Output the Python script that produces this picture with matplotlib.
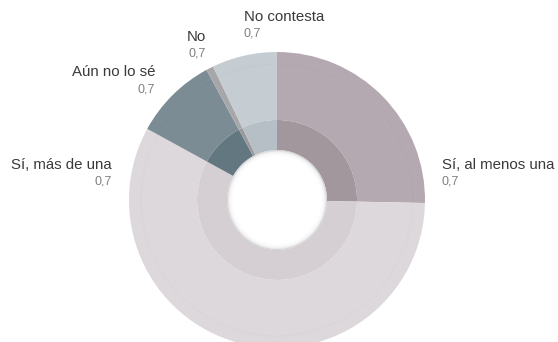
import matplotlib
matplotlib.use("Agg")
import matplotlib.pyplot as plt
from matplotlib.patches import Circle

# data (share of the ring, clockwise from 12 o'clock)
labels = ["Sí, al menos una", "Sí, más de una", "Aún no lo sé", "No", "No contesta"]
shares = [25.3, 57.6, 9.1, 0.8, 7.1]
value_text = ["0,7", "0,7", "0,7", "0,7", "0,7"]

outer_colors = ["#b4a9b0", "#ddd8dc", "#7b8c95", "#a7a7aa", "#c5ccd2"]
inner_colors = ["#a3979e", "#d5cfd3", "#637780", "#9a9a9e", "#b6bfc6"]

# label anchors (pixels, top-left origin) and alignment
label_pos = [(442, 165, "left"), (112, 165, "right"), (155, 72, "right"),
             (206, 37, "right"), (244, 17, "left")]

W, H = 558, 342
cx, cy = 277, H - 200
r_out, r_mid, r_hole = 148, 80, 50

plt.rcParams["font.family"] = ["Liberation Sans", "DejaVu Sans"]
fig = plt.figure(figsize=(W / 100, H / 100), dpi=100)
ax = fig.add_axes([0, 0, 1, 1])

ax.pie(shares, colors=outer_colors, radius=r_out, center=(cx, cy),
       startangle=90, counterclock=False, normalize=True,
       wedgeprops=dict(width=r_out - r_mid, linewidth=0))
ax.pie(shares, colors=inner_colors, radius=r_mid, center=(cx, cy),
       startangle=90, counterclock=False, normalize=True,
       wedgeprops=dict(width=r_mid - r_hole, linewidth=0))
ax.set_xlim(0, W)
ax.set_ylim(0, H)
ax.set_aspect("equal")
ax.axis("off")

# faint inner rim line on the outer ring
ax.add_patch(Circle((cx, cy), r_out - 12, fill=False, lw=0.6,
                    ec="black", alpha=0.02))

# hole with soft inner shadow
ax.add_patch(Circle((cx, cy), r_hole, color="#cfcfd2", lw=0))
for i in range(8):
    ax.add_patch(Circle((cx, cy), r_hole - 0.6 * (i + 1),
                        color="white", alpha=0.35, lw=0))
ax.add_patch(Circle((cx, cy), r_hole - 5.5, color="white", lw=0))

for (x, y, ha), lab, val in zip(label_pos, labels, value_text):
    ax.text(x, H - y, lab, ha=ha, va="center", fontsize=10.8, color="#3a3a3a")
    ax.text(x, H - y - 17, val, ha=ha, va="center", fontsize=9, color="#808080")

fig.savefig("out.png", dpi=100)
